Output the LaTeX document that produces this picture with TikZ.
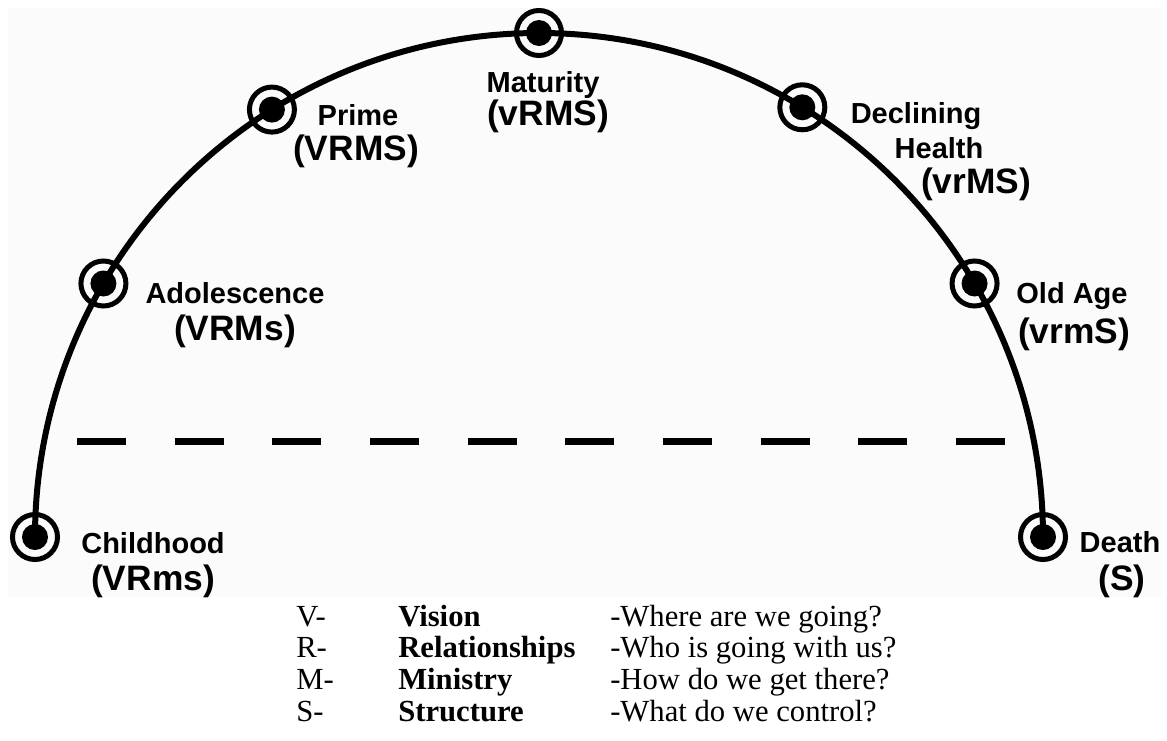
\documentclass[tikz,border=0pt]{standalone}
\usepackage{fontspec}
\setmainfont{Liberation Serif}
\setsansfont{Liberation Sans}
\usetikzlibrary{calc}
\definecolor{bgg}{RGB}{251,251,251}
\begin{document}
\begin{tikzpicture}[x=0.75pt,y=-0.75pt,
  curve/.style={line width=4.5pt},
  dashline/.style={line width=5.25pt,dash pattern=on 36.75pt off 36.5pt},
  ring/.style={circle,draw,line width=3.75pt,minimum size=33.75pt,inner sep=0pt,
    path picture={\fill (path picture bounding box.center) circle (9.75pt);}},
  lab1/.style={font=\sffamily\bfseries\fontsize{21.75pt}{24pt}\selectfont,inner sep=0pt,anchor=base},
  lab2/.style={font=\sffamily\bfseries\fontsize{26.5pt}{28pt}\selectfont,inner sep=0pt,anchor=base},
  leg/.style={font=\rmfamily\fontsize{23pt}{25pt}\selectfont,inner sep=0pt,anchor=base west},
  legb/.style={font=\rmfamily\bfseries\fontsize{23pt}{25pt}\selectfont,inner sep=0pt,anchor=base west}
]
\useasboundingbox (0,0) rectangle (1167,740);
\fill[bgg] (8,8) rectangle (1162,597);
\begin{scope}
\clip (8,8) rectangle (1162,597);
\coordinate (c) at (539,537);
\node[ring] (child) at ($(c)+(180:504)$) {};
\node[ring] (adol)  at ($(c)+(210.2:504)$) {};
\node[ring] (prime) at ($(c)+(238:504)$) {};
\node[ring] (mat)   at ($(c)+(270:504)$) {};
\node[ring] (decl)  at ($(c)+(301.5:504)$) {};
\node[ring] (old)   at ($(c)+(329.8:504)$) {};
\node[ring] (death) at ($(c)+(360:504)$) {};
\draw[curve] (child.center) arc[start angle=180,end angle=360,radius=504];
\coordinate (dl) at (77,441);
\coordinate (dr) at (1005,441);
\draw[dashline] (dl) -- (dr);
\node[lab1] (childA) at (153,553) {Childhood};
\node[lab2] (childB) at (153,590) {(VRms)};
\node[lab1] (adolA) at (235,303) {Adolescence};
\node[lab2] (adolB) at (235,340) {(VRMs)};
\node[lab1] (primeA) at (358,125) {Prime};
\node[lab2] (primeB) at (356,160) {(VRMS)};
\node[lab1] (matA) at (543,92) {Maturity};
\node[lab2] (matB) at (548,125) {(vRMS)};
\node[lab1] (declA) at (916,123) {Declining};
\node[lab1] (declB) at (939,158) {Health};
\node[lab2] (declC) at (976,193) {(vrMS)};
\node[lab1] (oldA) at (1072,303) {Old Age};
\node[lab2] (oldB) at (1074,343) {(vrmS)};
\node[lab1] (deathA) at (1120,552) {Death};
\node[lab2] (deathB) at (1122,590) {(S)};
\end{scope}
\node[leg]  (vk) at (296,626) {V-};
\node[legb] (vn) at (398,626) {Vision};
\node[leg]  (vq) at (610,626) {-Where are we going?};
\node[leg]  (rk) at (296,657.5) {R-};
\node[legb] (rn) at (398,657.5) {Relationships};
\node[leg]  (rq) at (610,657.5) {-Who is going with us?};
\node[leg]  (mk) at (296,689) {M-};
\node[legb] (mn) at (398,689) {Ministry};
\node[leg]  (mq) at (610,689) {-How do we get there?};
\node[leg]  (sk) at (296,721) {S-};
\node[legb] (sn) at (398,721) {Structure};
\node[leg]  (sq) at (610,721) {-What do we control?};
\end{tikzpicture}
\end{document}
